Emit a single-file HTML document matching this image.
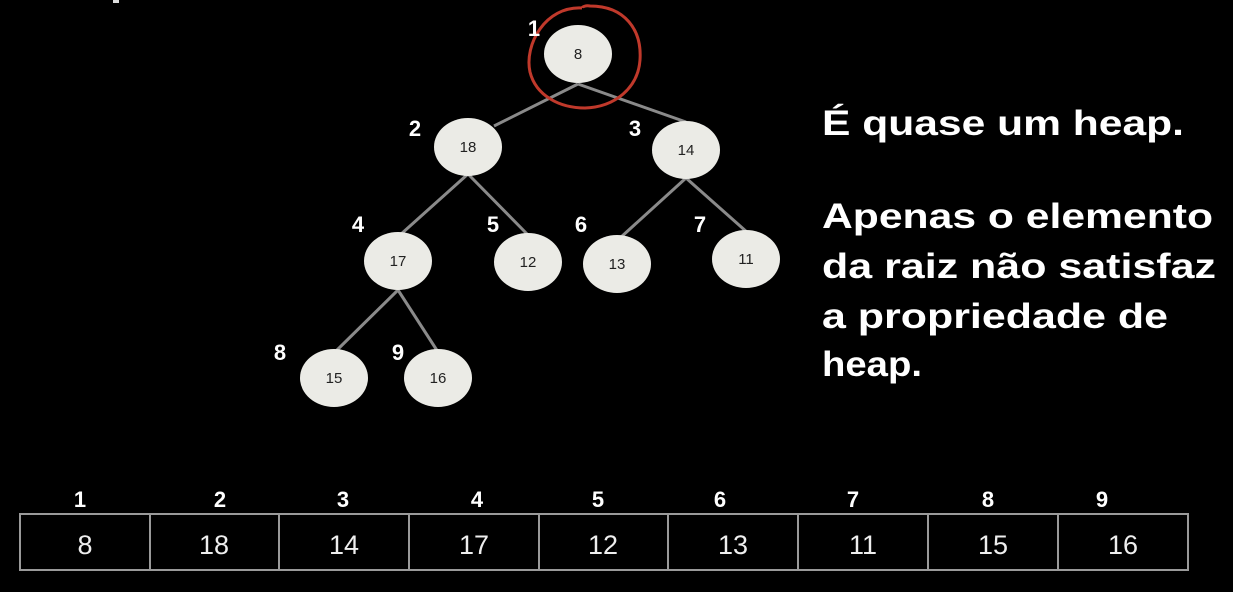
<!DOCTYPE html>
<html><head><meta charset="utf-8"><style>
html,body{margin:0;padding:0;background:#000;}
svg{display:block;}
</style></head><body>
<svg width="1233" height="592" viewBox="0 0 1233 592" xmlns="http://www.w3.org/2000/svg" font-family="Liberation Sans, sans-serif">
<rect width="1233" height="592" fill="#000"/>
<rect x="113" y="0" width="6" height="3" fill="#ddd"/>
<g stroke="#8a8a8a" stroke-width="3">
<line x1="578" y1="84" x2="494" y2="126"/>
<line x1="578" y1="84" x2="686" y2="122"/>
<line x1="468" y1="174" x2="400" y2="235"/>
<line x1="468" y1="174" x2="530" y2="237"/>
<line x1="686" y1="178" x2="620" y2="238"/>
<line x1="686" y1="178" x2="748" y2="233"/>
<line x1="398" y1="290" x2="335" y2="352"/>
<line x1="398" y1="290" x2="438" y2="352"/>
</g>
<g fill="#ebebe6">
<ellipse cx="578" cy="54" rx="34" ry="29"/>
<ellipse cx="468" cy="147" rx="34" ry="29"/>
<ellipse cx="686" cy="150" rx="34" ry="29"/>
<ellipse cx="398" cy="261" rx="34" ry="29"/>
<ellipse cx="528" cy="262" rx="34" ry="29"/>
<ellipse cx="617" cy="264" rx="34" ry="29"/>
<ellipse cx="746" cy="259" rx="34" ry="29"/>
<ellipse cx="334" cy="378" rx="34" ry="29"/>
<ellipse cx="438" cy="378" rx="34" ry="29"/>
</g>
<g fill="#222" font-size="15" text-anchor="middle">
<text x="578" y="59">8</text>
<text x="468" y="152">18</text>
<text x="686" y="155">14</text>
<text x="398" y="266">17</text>
<text x="528" y="267">12</text>
<text x="617" y="269">13</text>
<text x="746" y="264">11</text>
<text x="334" y="383">15</text>
<text x="438" y="383">16</text>
</g>
<path d="M582 8 C 545 6, 524 45, 530 72 C 536 96, 560 108, 585 108 C 615 107, 638 88, 640 60 C 642 30, 625 6, 590 6 C 586 5, 582 7, 582 8" fill="none" stroke="#c0392b" stroke-width="3"/>
<g fill="#fff" font-size="22" font-weight="bold" text-anchor="middle">
<text x="534" y="36">1</text>
<text x="415" y="136">2</text>
<text x="635" y="136">3</text>
<text x="358" y="232">4</text>
<text x="493" y="232">5</text>
<text x="581" y="232">6</text>
<text x="700" y="232">7</text>
<text x="280" y="360">8</text>
<text x="398" y="360">9</text>
</g>
<g fill="#fff" font-size="35" font-weight="bold">
<text x="822" y="135" textLength="362" lengthAdjust="spacingAndGlyphs">É quase um heap.</text>
<text x="822" y="228" textLength="391" lengthAdjust="spacingAndGlyphs">Apenas o elemento</text>
<text x="822" y="278" textLength="394" lengthAdjust="spacingAndGlyphs">da raiz não satisfaz</text>
<text x="822" y="328" textLength="346" lengthAdjust="spacingAndGlyphs">a propriedade de</text>
<text x="822" y="376" textLength="100" lengthAdjust="spacingAndGlyphs">heap.</text>
</g>
<g fill="#fff" font-size="22" font-weight="bold" text-anchor="middle">
<text x="80" y="507">1</text>
<text x="220" y="507">2</text>
<text x="343" y="507">3</text>
<text x="477" y="507">4</text>
<text x="598" y="507">5</text>
<text x="720" y="507">6</text>
<text x="853" y="507">7</text>
<text x="988" y="507">8</text>
<text x="1102" y="507">9</text>
</g>
<g fill="none" stroke="#9a9a9a" stroke-width="2">
<rect x="20" y="514" width="1168" height="56"/>
<line x1="150" y1="514" x2="150" y2="570"/>
<line x1="279" y1="514" x2="279" y2="570"/>
<line x1="409" y1="514" x2="409" y2="570"/>
<line x1="539" y1="514" x2="539" y2="570"/>
<line x1="668" y1="514" x2="668" y2="570"/>
<line x1="798" y1="514" x2="798" y2="570"/>
<line x1="928" y1="514" x2="928" y2="570"/>
<line x1="1058" y1="514" x2="1058" y2="570"/>
</g>
<g fill="#eee" font-size="27" text-anchor="middle">
<text x="85" y="554">8</text>
<text x="214" y="554">18</text>
<text x="344" y="554">14</text>
<text x="474" y="554">17</text>
<text x="603" y="554">12</text>
<text x="733" y="554">13</text>
<text x="863" y="554">11</text>
<text x="993" y="554">15</text>
<text x="1123" y="554">16</text>
</g>
</svg>
</body></html>
